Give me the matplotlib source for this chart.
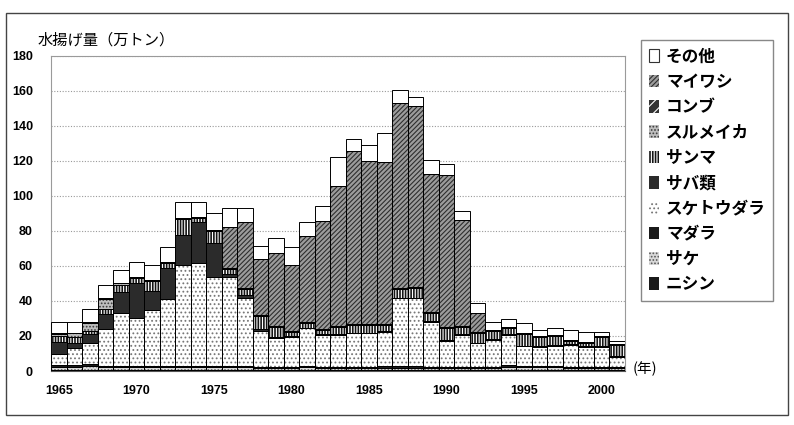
import matplotlib
matplotlib.use('Agg')
import matplotlib.pyplot as plt
from matplotlib.patches import Patch, Rectangle
from matplotlib import font_manager as fm

plt.rcParams['font.family'] = ['Noto Sans CJK JP', 'DejaVu Sans']
plt.rcParams['hatch.linewidth'] = 0.8

years = list(range(1965, 2002))

# 万トン (bottom -> top of each stack)
nishin = [0.5, 0.5, 0.8, 0.5, 0.5, 0.5, 0.5, 0.5, 0.5, 0.5, 0.5, 0.5, 0.5, 0.4, 0.4, 0.4, 0.5, 0.4, 0.4,
          0.4, 0.4, 0.5, 0.5, 0.5, 0.4, 0.4, 0.4, 0.4, 0.4, 0.5, 0.5, 0.5, 0.5, 0.4, 0.4, 0.4, 0.4]
sake = [1.8, 1.8, 2.2, 1.6, 1.6, 1.6, 1.5, 1.5, 1.6, 1.6, 1.6, 1.6, 1.5, 1.4, 1.4, 1.4, 1.5, 1.4, 1.4,
        1.4, 1.4, 1.3, 1.3, 1.3, 1.4, 1.4, 1.4, 1.4, 1.4, 1.5, 1.5, 1.5, 1.5, 1.4, 1.4, 1.4, 1.4]
madara = [0.9, 0.9, 1.2, 0.9, 0.9, 0.9, 0.8, 0.8, 0.9, 0.9, 0.9, 0.9, 0.8, 0.7, 0.7, 0.7, 0.8, 0.7, 0.7,
          0.7, 0.7, 1.0, 1.0, 1.0, 0.7, 0.7, 0.7, 0.7, 0.7, 1.5, 1.0, 0.8, 0.8, 0.7, 0.7, 0.7, 0.7]
sukesou = [6.3, 9.7, 12.0, 20.8, 30.3, 27.5, 32.1, 38.5, 57.4, 58.9, 50.9, 50.9, 39.1, 20.5, 16.2, 17.1,
           21.6, 18.1, 18.1, 19.0, 19.0, 19.7, 38.7, 38.7, 25.7, 14.8, 18.1, 13.3, 15.2, 17.1, 11.0,
           11.1, 11.5, 12.4, 11.4, 11.4, 5.7]
saba = [7.2, 2.9, 4.8, 9.0, 11.5, 19.6, 10.8, 17.7, 17.1, 22.9, 19.1, 1.3, 1.3, 0.8, 0.5, 0.3, 0.3, 0.3,
        0.3, 0.3, 0.3, 0.3, 0.3, 0.3, 0.3, 0.3, 0.3, 0.3, 0.3, 0.3, 0.3, 0.3, 0.3, 0.3, 0.3, 0.3, 0.3]
sanma = [3.2, 3.8, 1.9, 2.4, 4.2, 2.7, 5.5, 2.5, 9.5, 2.6, 7.0, 2.9, 3.5, 7.6, 6.1, 2.6, 2.5, 2.5, 4.1,
         4.5, 4.5, 3.5, 4.9, 5.4, 4.5, 6.8, 4.4, 5.4, 4.9, 3.9, 7.0, 5.4, 5.4, 1.9, 1.6, 5.3, 6.4]
surume = [1.0, 2.0, 4.6, 5.8, 1.0, 0.8, 0.6, 0.6, 0, 0, 0, 0, 0, 0, 0, 0, 0, 0, 0,
          0, 0, 0, 0, 0, 0, 0, 0, 0, 0, 0, 0, 0, 0, 0, 0, 0, 0]
konbu = [0.5, 0.3, 0.5, 0.5, 0.1, 0.3, 0.2, 0.2, 0.3, 0.3, 0.3, 0.5, 0.5, 0.5, 0.5, 0.5, 0.5, 0.5, 0.5,
         0.5, 0.5, 0.5, 0.5, 0.5, 0.5, 0.5, 0.5, 0.5, 0.5, 0.5, 0.5, 0.5, 0.5, 0.5, 0.5, 0.5, 0.5]
maiwashi = [0, 0, 0, 0, 0, 0, 0, 0, 0, 0, 0, 23.3, 37.6, 31.9, 41.8, 37.6, 49.4, 61.4, 79.8,
            98.5, 92.8, 92.2, 105.8, 103.7, 79.1, 87.1, 60.5, 10.9, 0, 0, 0, 0, 0, 0, 0, 0, 0]
sonota = [6.4, 5.9, 7.6, 7.5, 7.4, 8.4, 8.4, 8.6, 8.9, 8.5, 9.8, 11.1, 8.0, 7.6, 8.2, 9.9, 7.7, 9.0,
          16.7, 7.3, 9.5, 16.8, 7.6, 5.0, 7.6, 6.3, 4.7, 5.9, 4.4, 4.4, 5.6, 3.3, 4.3, 5.8, 5.8, 2.3, 1.9]

labels = ['ニシン', 'サケ', 'マダラ', 'スケトウダラ', 'サバ類', 'サンマ', 'スルメイカ', 'コンブ', 'マイワシ', 'その他']
series = [nishin, sake, madara, sukesou, saba, sanma, surume, konbu, maiwashi, sonota]
# (face, hatch colour, hatch)
styles = [
    ('#1a1a1a', '#1a1a1a', None),
    ('#d8d8d8', '#555555', '.....'),
    ('#1a1a1a', '#1a1a1a', None),
    ('#ffffff', '#777777', '....'),
    ('#2b2b2b', '#2b2b2b', None),
    ('#151515', '#ffffff', '||||||'),
    ('#bdbdbd', '#3a3a3a', '.....'),
    ('#333333', '#ffffff', '///'),
    ('#9c9c9c', '#2e2e2e', '///////'),
    ('#ffffff', '#ffffff', None),
]

names = {f.name for f in fm.fontManager.ttflist}
if 'Liberation Sans Narrow' in names:
    numfont = dict(family='Liberation Sans Narrow', weight='bold', size=10)
else:
    numfont = dict(family='Liberation Sans', weight='bold', size=9)

fig = plt.figure(figsize=(7.94, 4.25), dpi=100)
ax = fig.add_axes([51 / 794, 1 - 371 / 425, (625 - 51) / 794, (371 - 55.5) / 425])

bottom = [0.0] * len(years)
handles = []
for vals, lab, (fc, hc, h) in zip(series, labels, styles):
    ax.bar(years, vals, bottom=bottom, width=1.0, color=fc, edgecolor=hc,
           hatch=h, linewidth=0, zorder=2)
    ax.bar(years, vals, bottom=bottom, width=1.0, fill=False, edgecolor='black',
           linewidth=0.7, zorder=3)
    if lab == 'その他':
        hp = Patch(facecolor=fc, edgecolor='#333333', linewidth=0.8)
    else:
        hp = Patch(facecolor=fc, edgecolor=hc, hatch=h, linewidth=0)
    handles.append(hp)
    bottom = [b + v for b, v in zip(bottom, vals)]

ax.set_xlim(1964.5, 2001.5)
ax.set_ylim(0, 180)
ax.set_yticks(range(0, 181, 20))
ax.set_xticks(range(1965, 2001, 5))
ax.tick_params(axis='both', length=0)
ax.tick_params(axis='y', pad=13)
ax.tick_params(axis='x', pad=10)
for t in ax.get_yticklabels() + ax.get_xticklabels():
    t.set_fontproperties(fm.FontProperties(**numfont))
ax.yaxis.grid(True, linestyle=(0, (1, 1.5)), color='#9a9a9a', linewidth=0.8, zorder=1)
ax.set_axisbelow(True)
for s in ax.spines.values():
    s.set_color('#9a9a9a')
    s.set_linewidth(0.8)
ax.spines['bottom'].set_color('#555555')

fig.text(38 / 794, 1 - 40 / 425, '水揚げ量（万トン）', fontsize=11, va='center', ha='left')
fig.text(633 / 794, 1 - 369 / 425, '(年)', fontsize=10.5, va='center', ha='left')

leg = fig.legend(handles[::-1], labels[::-1], loc='upper left',
                 bbox_to_anchor=(641 / 794, 1 - 40 / 425), bbox_transform=fig.transFigure,
                 borderaxespad=0,
                 prop=dict(family=['Noto Sans CJK JP', 'DejaVu Sans'], weight='bold', size=12),
                 handlelength=0.6, handleheight=0.8, handletextpad=0.45, labelspacing=0.44,
                 borderpad=0.45, fancybox=False, framealpha=1, edgecolor='#888888')
leg.get_frame().set_linewidth(1.0)

fig.add_artist(Rectangle((6 / 794, 1 - 415 / 425), (788 - 6) / 794, (415 - 13) / 425,
                         transform=fig.transFigure, fill=False, edgecolor='#444444', linewidth=1.0))

fig.savefig('out.png', dpi=100)
